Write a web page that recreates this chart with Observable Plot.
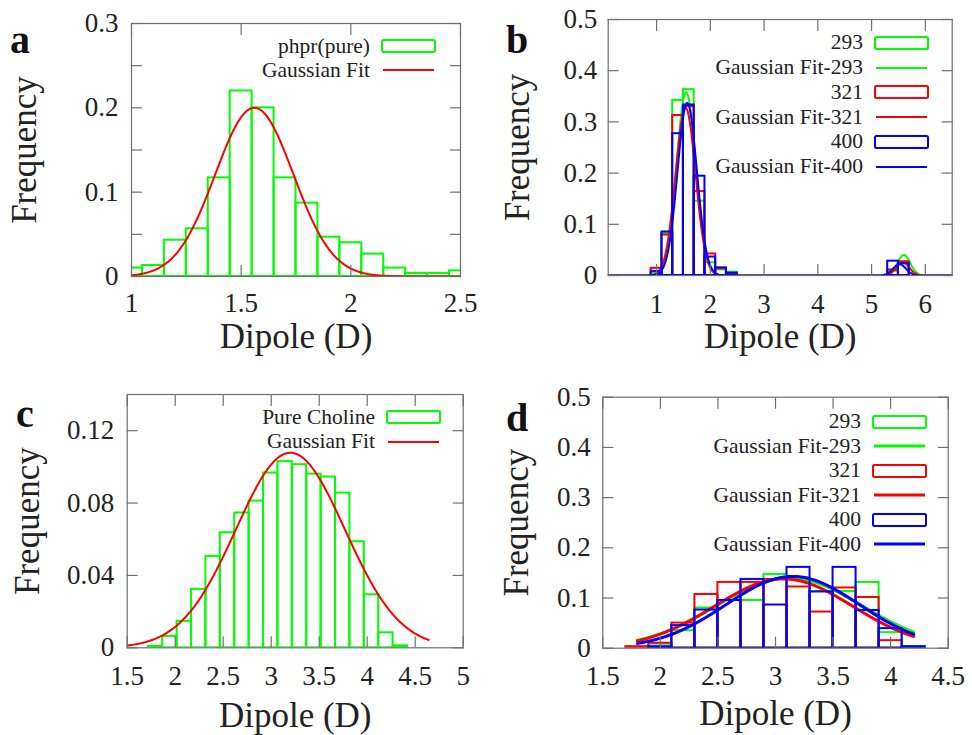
<!DOCTYPE html>
<html><head><meta charset="utf-8">
<script src="https://cdn.jsdelivr.net/npm/d3@7"></script>
<script src="https://cdn.jsdelivr.net/npm/@observablehq/plot@0.6"></script>
<style>
body{margin:0;background:#fff;}
#root{position:relative;width:972px;height:735px;overflow:hidden;font-family:"Liberation Serif",serif;background:#fff;}
.panel{position:absolute;}
.tag{position:absolute;font-weight:bold;font-size:40px;line-height:1;color:#111;font-family:"Liberation Serif",serif;}
.legend{position:absolute;font-size:21.5px;color:#222;font-family:"Liberation Serif",serif;}
.legend .row{display:flex;justify-content:flex-end;align-items:center;white-space:nowrap;}
.legend svg{margin-left:11px;display:block;}
</style></head><body><div id="root"></div><script>
const GREEN = "#00ff00", RED = "#ff0000", BLUE = "#0000ff", FRAME = "#6f6f6f", INK = "#222";

// ---------- panel a ----------
const aBinWidth = 0.1;
const aCenters = [1.0, 1.1, 1.2, 1.3, 1.4, 1.5, 1.6, 1.7, 1.8, 1.9, 2.0, 2.1, 2.2, 2.3, 2.4, 2.5];
const aValues  = [0.010, 0.013, 0.043, 0.0565, 0.117, 0.220, 0.200, 0.117, 0.087, 0.0466, 0.040, 0.0265, 0.010, 0.0036, 0.0036, 0.0067];
const aFit = [0.200, 1.56, 0.178];          // amplitude, mean, sigma
const aFitRange = [1.0, 2.5];
const aXTicks = [1, 1.5, 2, 2.5];
const aXTickLabels = ["1", "1.5", "2", "2.5"];
const aYTicks = [0, 0.05, 0.1, 0.15, 0.2, 0.25, 0.3];
const aYLabelTicks = [0, 0.1, 0.2, 0.3];
const aYTickLabels = ["0", "0.1", "0.2", "0.3"];
const aLegendLabels = ["phpr(pure)", "Gaussian Fit"];

// ---------- panel b ----------
const bBinWidth = 0.2;
const bCenters = [1.0, 1.2, 1.4, 1.6, 1.8, 2.0, 2.2, 2.4, 2.6, 2.8, 5.4, 5.6];
const b293 = [0.005, 0.082, 0.342, 0.363, 0.145, 0.025, 0.011, 0.0065, null, null, 0.008, 0.024];
const b321 = [0.014, 0.079, 0.3125, 0.330, 0.164, 0.042, 0.013, 0.003, 0, 0, 0.011, 0.027];
const b400 = [0.008, 0.085, 0.277, 0.333, 0.194, 0.036, 0.015, 0.0046, null, null, 0.028, 0.023];
// two-peak gaussian fits: A1, mu1, s1, A2, mu2, s2
const bFit293 = [0.358, 1.55, 0.18, 0.040, 5.60, 0.12];
const bFit321 = [0.328, 1.54, 0.185, 0.026, 5.58, 0.12];
const bFit400 = [0.337, 1.57, 0.18, 0.022, 5.52, 0.12];
const bFitRange = [0.1, 6.5];
const bXTicks = [1, 2, 3, 4, 5, 6];
const bXTickLabels = ["1", "2", "3", "4", "5", "6"];
const bYTicks = [0, 0.1, 0.2, 0.3, 0.4, 0.5];
const bYTickLabels = ["0", "0.1", "0.2", "0.3", "0.4", "0.5"];
const bLegendLabels = ["293", "Gaussian Fit-293", "321", "Gaussian Fit-321", "400", "Gaussian Fit-400"];

// ---------- panel c ----------
const cBinWidth = 0.15;
const cCenters = [1.495, 1.645, 1.795, 1.945, 2.095, 2.245, 2.395, 2.545, 2.695, 2.845, 2.995, 3.145, 3.295, 3.445, 3.595, 3.745, 3.895, 4.045, 4.195, 4.345, 4.495, 4.645];
const cValues  = [0, 0, 0.0008, 0.0063, 0.0146, 0.0323, 0.0505, 0.0636, 0.0745, 0.0811, 0.0966, 0.1029, 0.1012, 0.0960, 0.0944, 0.0855, 0.0586, 0.0293, 0.0083, 0.0011, 0, 0];
const cFit = [0.1078, 3.20, 0.568];
const cFitRange = [1.5, 4.64];
const cXTicks = [1.5, 2, 2.5, 3, 3.5, 4, 4.5, 5];
const cXTickLabels = ["1.5", "2", "2.5", "3", "3.5", "4", "4.5", "5"];
const cYTicks = [0, 0.04, 0.08, 0.12];
const cYTickLabels = ["0", "0.04", "0.08", "0.12"];
const cLegendLabels = ["Pure Choline", "Gaussian Fit"];

// ---------- panel d ----------
const dBinWidth = 0.2;
const dCenters = [1.8, 2.0, 2.2, 2.4, 2.6, 2.8, 3.0, 3.2, 3.4, 3.6, 3.8, 4.0, 4.2];
const d293 = [null, 0.008, 0.035, 0.080, 0.095, 0.095, 0.147, 0.140, 0.113, 0.113, 0.131, 0.031, 0.003];
const d321 = [0.003, 0.010, 0.050, 0.107, 0.131, 0.131, 0.137, 0.122, 0.072, 0.120, 0.101, 0.015, null];
const d400 = [null, 0.003, 0.045, 0.076, 0.095, 0.137, 0.086, 0.161, 0.112, 0.161, 0.075, 0.039, 0.003];
const dFit293 = [0.140, 3.12, 0.63];
const dFit321 = [0.138, 3.07, 0.60];
const dFit400 = [0.143, 3.15, 0.58];
const dFitRange = [1.8, 4.2];
const dXTicks = [1.5, 2, 2.5, 3, 3.5, 4, 4.5];
const dXTickLabels = ["1.5", "2", "2.5", "3", "3.5", "4", "4.5"];
const dYTicks = [0, 0.1, 0.2, 0.3, 0.4, 0.5];
const dYTickLabels = ["0", "0.1", "0.2", "0.3", "0.4", "0.5"];
const dLegendLabels = ["293", "Gaussian Fit-293", "321", "Gaussian Fit-321", "400", "Gaussian Fit-400"];

const X_TITLE = "Dipole (D)", Y_TITLE = "Frequency";

// ---------- helpers ----------
function bins(centers, values, width) {
  return centers.map((c, i) => ({x1: c - width / 2, x2: c + width / 2, y: values[i]})).filter(d => d.y != null);
}
function gaussPoints(p, range) {
  const pts = [];
  const n = 400;
  for (let k = 0; k <= n; k++) {
    const x = range[0] + (range[1] - range[0]) * k / n;
    let y = 0;
    for (let j = 0; j + 2 < p.length; j += 3) y += p[j] * Math.exp(-((x - p[j + 1]) ** 2) / (2 * p[j + 2] ** 2));
    pts.push({x, y});
  }
  return pts;
}
function histMark(data, color, sw = 2) {
  return Plot.rect(data, {x1: "x1", x2: "x2", y1: 0, y2: "y", fill: "none", stroke: color, strokeWidth: sw, clip: true});
}
function fitMark(pts, color, sw = 2) {
  return Plot.line(pts, {x: "x", y: "y", stroke: color, strokeWidth: sw, clip: true, curve: "linear"});
}

function buildPanel(cfg) {
  const xFmt = new Map(cfg.xTicks.map((t, i) => [t, cfg.xLabels[i]]));
  const yFmt = new Map(cfg.yLabelTicks.map((t, i) => [t, cfg.yLabels[i]]));
  return Plot.plot({
    width: cfg.w, height: cfg.h,
    marginLeft: cfg.m[0], marginRight: cfg.m[1], marginTop: cfg.m[2], marginBottom: cfg.m[3],
    x: {domain: cfg.xDomain}, y: {domain: cfg.yDomain},
    style: {fontFamily: "'Liberation Serif', serif", color: INK, background: "transparent", overflow: "visible"},
    marks: [
      ...cfg.marks,
      Plot.frame({stroke: FRAME, strokeWidth: 1.2}),
      Plot.axisX(cfg.xTicks, {anchor: "bottom", tickSize: -11, fill: "none", stroke: FRAME, strokeWidth: 1.2, label: null}),
      Plot.axisX(cfg.xTicks, {anchor: "top", tickSize: -11, fill: "none", stroke: FRAME, strokeWidth: 1.2, label: null}),
      Plot.axisY(cfg.yTicks, {anchor: "left", tickSize: -11, fill: "none", stroke: FRAME, strokeWidth: 1.2, label: null}),
      Plot.axisY(cfg.yTicks, {anchor: "right", tickSize: -11, fill: "none", stroke: FRAME, strokeWidth: 1.2, label: null}),
      Plot.axisX(cfg.xTicks, {anchor: "bottom", tickSize: 0, tickPadding: cfg.xPad, tickFormat: d => xFmt.get(d), fontSize: 27, fill: INK, label: null}),
      Plot.axisY(cfg.yLabelTicks, {anchor: "left", tickSize: 0, tickPadding: cfg.yPad, tickFormat: d => yFmt.get(d), fontSize: 27, fill: INK, label: null}),
      Plot.text([X_TITLE], {text: d => d, frameAnchor: "bottom", textAnchor: "middle", lineAnchor: "middle", dy: cfg.xTitleDy, fontSize: 35, fill: INK}),
      Plot.text([Y_TITLE], {text: d => d, frameAnchor: "left", textAnchor: "middle", lineAnchor: "middle", dx: cfg.yTitleDx, rotate: -90, fontSize: 35, fill: INK})
    ]
  });
}

function place(el, left, top) {
  const wrap = document.createElement("div");
  wrap.className = "panel";
  wrap.style.left = left + "px";
  wrap.style.top = top + "px";
  wrap.appendChild(el);
  document.getElementById("root").appendChild(wrap);
}
function tag(letter, left, top) {
  const t = document.createElement("div");
  t.className = "tag";
  t.textContent = letter;
  t.style.left = left + "px";
  t.style.top = top + "px";
  document.getElementById("root").appendChild(t);
}
function legend(labels, kinds, colors, swatchRight, firstCenter, spacing, lineW) {
  const L = document.createElement("div");
  L.className = "legend";
  L.style.right = (972 - swatchRight) + "px";
  L.style.top = (firstCenter - spacing / 2) + "px";
  labels.forEach((lab, i) => {
    const row = document.createElement("div");
    row.className = "row";
    row.style.height = spacing + "px";
    const s = document.createElement("span");
    s.textContent = lab;
    row.appendChild(s);
    const ns = "http://www.w3.org/2000/svg";
    const svg = document.createElementNS(ns, "svg");
    svg.setAttribute("width", 55); svg.setAttribute("height", 16);
    if (kinds[i] === "box") {
      const r = document.createElementNS(ns, "rect");
      r.setAttribute("x", 1); r.setAttribute("y", 2); r.setAttribute("width", 53); r.setAttribute("height", 12);
      r.setAttribute("rx", 1.5); r.setAttribute("fill", "none"); r.setAttribute("stroke", colors[i]); r.setAttribute("stroke-width", 2);
      svg.appendChild(r);
    } else {
      const l = document.createElementNS(ns, "line");
      l.setAttribute("x1", 2); l.setAttribute("x2", 53); l.setAttribute("y1", 8); l.setAttribute("y2", 8);
      l.setAttribute("stroke", colors[i]); l.setAttribute("stroke-width", lineW);
      svg.appendChild(l);
    }
    row.appendChild(svg);
    L.appendChild(row);
  });
  document.getElementById("root").appendChild(L);
}

// ---------- panel a ----------
place(buildPanel({
  w: 486, h: 367, m: [131, 26, 23, 91],
  xDomain: [1, 2.5], yDomain: [0, 0.3],
  xTicks: aXTicks, xLabels: aXTickLabels, yTicks: aYTicks, yLabelTicks: aYLabelTicks, yLabels: aYTickLabels,
  xPad: 16, yPad: 13, xTitleDy: 60, yTitleDx: -107,
  marks: [histMark(bins(aCenters, aValues, aBinWidth), GREEN), fitMark(gaussPoints(aFit, aFitRange), RED)]
}), 0, 0);

// ---------- panel b ----------
place(buildPanel({
  w: 486, h: 367, m: [121.7, 20.3, 19, 92],
  xDomain: [0.1, 6.5], yDomain: [0, 0.5],
  xTicks: bXTicks, xLabels: bXTickLabels, yTicks: bYTicks, yLabelTicks: bYTicks, yLabels: bYTickLabels,
  xPad: 18, yPad: 11, xTitleDy: 61, yTitleDx: -90,
  marks: [
    histMark(bins(bCenters, b293, bBinWidth), GREEN), fitMark(gaussPoints(bFit293, bFitRange), GREEN),
    histMark(bins(bCenters, b321, bBinWidth), RED), fitMark(gaussPoints(bFit321, bFitRange), RED),
    histMark(bins(bCenters, b400, bBinWidth), BLUE), fitMark(gaussPoints(bFit400, bFitRange), BLUE)
  ]
}), 486, 0);

// ---------- panel c ----------
place(buildPanel({
  w: 486, h: 368, m: [126.7, 23.3, 27, 87.7],
  xDomain: [1.5, 5], yDomain: [0, 0.14],
  xTicks: cXTicks, xLabels: cXTickLabels, yTicks: cYTicks, yLabelTicks: cYTicks, yLabels: cYTickLabels,
  xPad: 18, yPad: 13, xTitleDy: 68, yTitleDx: -99,
  marks: [histMark(bins(cCenters, cValues, cBinWidth), GREEN), fitMark(gaussPoints(cFit, cFitRange), RED)]
}), 0, 367);

// ---------- panel d ----------
place(buildPanel({
  w: 486, h: 368, m: [116.3, 24.3, 29.7, 87.3],
  xDomain: [1.5, 4.5], yDomain: [0, 0.5],
  xTicks: dXTicks, xLabels: dXTickLabels, yTicks: dYTicks, yLabelTicks: dYTicks, yLabels: dYTickLabels,
  xPad: 18, yPad: 12, xTitleDy: 66, yTitleDx: -86,
  marks: [
    histMark(bins(dCenters, d293, dBinWidth), GREEN), fitMark(gaussPoints(dFit293, dFitRange), GREEN, 3),
    histMark(bins(dCenters, d321, dBinWidth), RED), fitMark(gaussPoints(dFit321, dFitRange), RED, 3),
    histMark(bins(dCenters, d400, dBinWidth), BLUE), fitMark(gaussPoints(dFit400, dFitRange), BLUE, 3)
  ]
}), 486, 367);

// ---------- tags & legends ----------
tag("a", 10, 20);
tag("b", 506, 20);
tag("c", 16, 394);
tag("d", 506, 398);

const sixKinds = ["box", "line", "box", "line", "box", "line"];
const sixColors = [GREEN, GREEN, RED, RED, BLUE, BLUE];
legend(aLegendLabels, ["box", "line"], [GREEN, RED], 436, 46, 24, 2);
legend(bLegendLabels, sixKinds, sixColors, 929, 42.8, 24.8, 2);
legend(cLegendLabels, ["box", "line"], [GREEN, RED], 441, 417.5, 24.2, 2);
legend(dLegendLabels, sixKinds, sixColors, 927, 421.7, 24.5, 3);
</script></body></html>
